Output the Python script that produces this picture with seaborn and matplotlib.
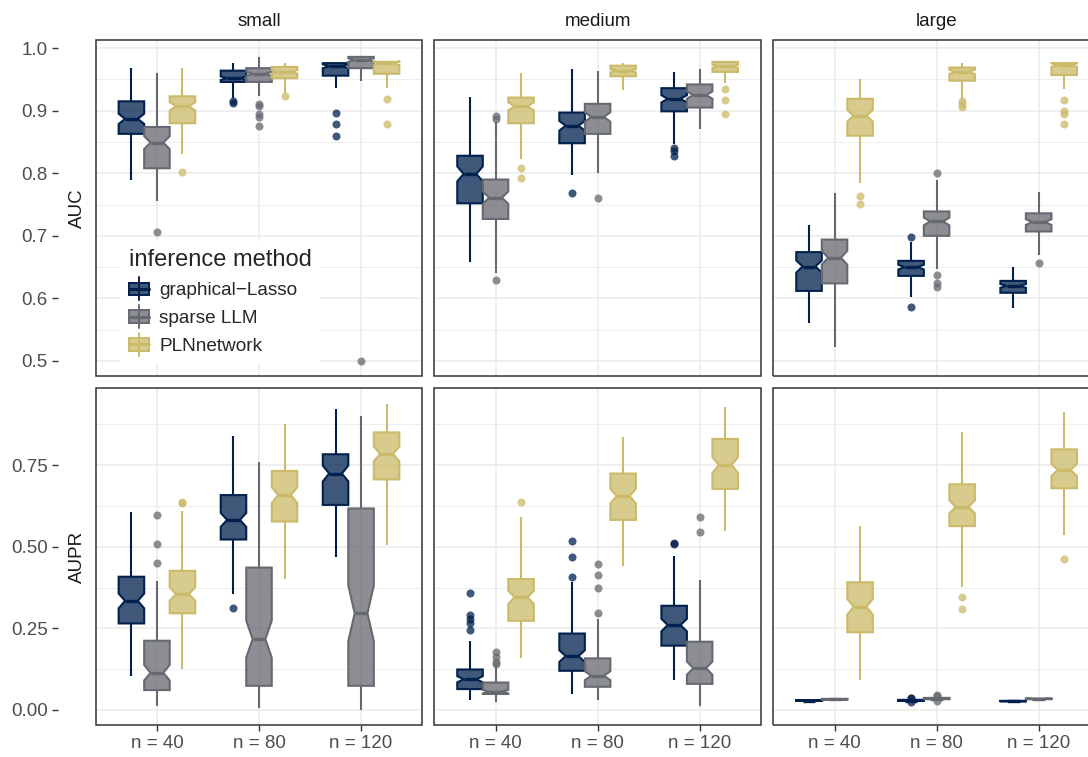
import numpy as np
import pandas as pd
import matplotlib
matplotlib.use("Agg")
import matplotlib.pyplot as plt
import seaborn as sns
from matplotlib.colors import to_rgba
from matplotlib.legend_handler import HandlerBase
from matplotlib.patches import Rectangle, Patch
from matplotlib.lines import Line2D
from matplotlib.ticker import MultipleLocator, FormatStrFormatter

GL, SL, PLN = "graphical\u2212Lasso", "sparse LLM", "PLNnetwork"
methods = [GL, SL, PLN]
colors = ["#00204D", "#666970", "#CBBA69"]
sizes = ["small", "medium", "large"]
metrics = ["AUC", "AUPR"]
n_labels = ["n = 40", "n = 80", "n = 120"]

# per box: lower whisker, Q1, median, Q3, upper whisker  (n = 40, 80, 120)
auc_small = {
    GL: [[0.789, 0.863, 0.887, 0.915, 0.969], [0.921, 0.946, 0.952, 0.964, 0.977], [0.936, 0.956, 0.971, 0.976, 0.978]],
    SL: [[0.755, 0.808, 0.849, 0.874, 0.961], [0.924, 0.946, 0.959, 0.968, 0.986], [0.947, 0.968, 0.981, 0.986, 0.988]],
    PLN: [[0.831, 0.880, 0.907, 0.923, 0.968], [0.928, 0.952, 0.962, 0.970, 0.976], [0.937, 0.959, 0.976, 0.978, 0.979]],
}
auc_small_out = {
    GL: [[], [0.916, 0.912], [0.896, 0.878, 0.859]],
    SL: [[0.706], [0.911, 0.907, 0.895, 0.890, 0.876], [0.500]],
    PLN: [[0.802], [0.924], [0.919, 0.879]],
}
auc_medium = {
    GL: [[0.658, 0.752, 0.799, 0.828, 0.922], [0.798, 0.848, 0.876, 0.897, 0.966], [0.847, 0.899, 0.919, 0.936, 0.962]],
    SL: [[0.640, 0.727, 0.761, 0.790, 0.882], [0.800, 0.863, 0.890, 0.911, 0.964], [0.870, 0.905, 0.925, 0.942, 0.967]],
    PLN: [[0.823, 0.880, 0.907, 0.921, 0.961], [0.933, 0.955, 0.964, 0.972, 0.977], [0.944, 0.962, 0.971, 0.978, 0.979]],
}
auc_medium_out = {
    GL: [[], [0.768], [0.841, 0.835, 0.828]],
    SL: [[0.892, 0.887, 0.630], [0.761], []],
    PLN: [[0.808, 0.792], [], [0.935, 0.917, 0.895]],
}
auc_large = {
    GL: [[0.561, 0.612, 0.651, 0.674, 0.718], [0.602, 0.636, 0.650, 0.660, 0.690], [0.585, 0.609, 0.620, 0.628, 0.650]],
    SL: [[0.522, 0.624, 0.665, 0.694, 0.769], [0.647, 0.700, 0.723, 0.739, 0.790], [0.670, 0.707, 0.722, 0.736, 0.770]],
    PLN: [[0.784, 0.860, 0.892, 0.919, 0.950], [0.919, 0.948, 0.962, 0.969, 0.976], [0.935, 0.957, 0.973, 0.976, 0.978]],
}
auc_large_out = {
    GL: [[], [0.698, 0.586], []],
    SL: [[], [0.800, 0.638, 0.624, 0.618], [0.657]],
    PLN: [[0.763, 0.751], [0.915, 0.911, 0.906], [0.917, 0.899, 0.895, 0.879]],
}
aupr_small = {
    GL: [[0.105, 0.265, 0.334, 0.408, 0.607], [0.355, 0.522, 0.582, 0.658, 0.839], [0.467, 0.628, 0.724, 0.783, 0.922]],
    SL: [[0.012, 0.061, 0.114, 0.212, 0.395], [0.005, 0.074, 0.217, 0.436, 0.760], [0.000, 0.074, 0.296, 0.617, 0.900]],
    PLN: [[0.127, 0.296, 0.355, 0.426, 0.609], [0.401, 0.577, 0.658, 0.732, 0.876], [0.505, 0.706, 0.784, 0.850, 0.937]],
}
aupr_small_out = {
    GL: [[], [0.313], []],
    SL: [[0.597, 0.507, 0.450], [], []],
    PLN: [[0.638, 0.635], [], []],
}
aupr_medium = {
    GL: [[0.031, 0.064, 0.094, 0.124, 0.211], [0.048, 0.120, 0.165, 0.234, 0.391], [0.092, 0.197, 0.260, 0.319, 0.471]],
    SL: [[0.023, 0.049, 0.056, 0.084, 0.135], [0.031, 0.071, 0.105, 0.158, 0.278], [0.013, 0.080, 0.128, 0.209, 0.398]],
    PLN: [[0.158, 0.273, 0.345, 0.401, 0.590], [0.441, 0.582, 0.655, 0.724, 0.837], [0.549, 0.677, 0.750, 0.830, 0.927]],
}
aupr_medium_out = {
    GL: [[0.357, 0.291, 0.278, 0.265, 0.245], [0.518, 0.467, 0.408], [0.510, 0.508]],
    SL: [[0.179, 0.161, 0.148, 0.141], [0.446, 0.413, 0.374, 0.298], [0.592, 0.544]],
    PLN: [[0.637], [], []],
}
aupr_large = {
    GL: [[0.026, 0.028, 0.029, 0.030, 0.032], [0.026, 0.028, 0.029, 0.031, 0.033], [0.026, 0.027, 0.027, 0.028, 0.029]],
    SL: [[0.029, 0.032, 0.033, 0.034, 0.037], [0.029, 0.033, 0.035, 0.037, 0.041], [0.031, 0.033, 0.034, 0.035, 0.037]],
    PLN: [[0.092, 0.238, 0.316, 0.391, 0.564], [0.378, 0.563, 0.622, 0.691, 0.852], [0.536, 0.679, 0.735, 0.798, 0.911]],
}
aupr_large_out = {
    GL: [[], [0.023, 0.036, 0.037], []],
    SL: [[], [0.026, 0.044, 0.046], []],
    PLN: [[], [0.345, 0.308], [0.462]],
}

panels = {
    ("AUC", "small"): (auc_small, auc_small_out),
    ("AUC", "medium"): (auc_medium, auc_medium_out),
    ("AUC", "large"): (auc_large, auc_large_out),
    ("AUPR", "small"): (aupr_small, aupr_small_out),
    ("AUPR", "medium"): (aupr_medium, aupr_medium_out),
    ("AUPR", "large"): (aupr_large, aupr_large_out),
}


# 100 values per box whose quartiles / whiskers / outliers are the read ones
def expand(st, outs):
    lo, q1, med, q3, hi = st
    low = sorted(v for v in outs if v < lo)
    high = sorted(v for v in outs if v > hi)
    nl, nh = len(low), len(high)
    return low + [lo] + [q1] * (25 - nl) + [med] * 48 + [q3] * (25 - nh) + [hi] + high


rows = []
for (metric, size), (stats, outs) in panels.items():
    for m in methods:
        for n, st, ol in zip(n_labels, stats[m], outs[m]):
            for v in expand(st, ol):
                rows.append((metric, size, m, n, v))
df = pd.DataFrame(rows, columns=["metric", "size", "method", "n", "value"])

sns.set_theme(style="white")
plt.rcParams["font.family"] = ["Liberation Sans", "DejaVu Sans"]


class BoxKey(HandlerBase):
    def create_artists(self, legend, orig, xd, yd, width, height, fontsize, trans):
        c = orig.get_edgecolor()
        f = orig.get_facecolor()
        x0, y0 = -xd, -yd
        cx = x0 + width / 2
        wl = Line2D([cx, cx], [y0 - 0.05 * height, y0 + 1.05 * height], color=c, lw=1.4, transform=trans)
        bx = Rectangle((x0, y0 + 0.2 * height), width, 0.6 * height, fc=f, ec=c, lw=1.4, transform=trans)
        md = Line2D([x0, x0 + width], [y0 + 0.5 * height] * 2, color=c, lw=2.2, transform=trans)
        return [wl, bx, md]


W, H = 1088, 757
fig = plt.figure(figsize=(W / 100, H / 100), dpi=100)
col_x = [95.7, 434.3, 773.3]
pw = 326.6
row_y = {"AUC": (40, 376), "AUPR": (388.3, 725)}
ylims = {"AUC": (0.476, 1.013), "AUPR": (-0.046, 0.985)}
ysteps = {"AUC": (0.1, 0.05, "%.1f"), "AUPR": (0.25, 0.125, "%.2f")}

axes = {}
for r, metric in enumerate(metrics):
    yt, yb = row_y[metric]
    for c, size in enumerate(sizes):
        ax = fig.add_axes([col_x[c] / W, 1 - yb / H, pw / W, (yb - yt) / H])
        axes[(metric, size)] = ax
        sub = df[(df["metric"] == metric) & (df["size"] == size)]
        for m, col in zip(methods, colors):
            sns.boxplot(data=sub[sub["method"] == m], x="n", y="value", hue="method",
                        order=n_labels, hue_order=methods, palette=colors,
                        dodge=True, width=0.75, gap=0, notch=True, showcaps=False,
                        whis=1.5, linecolor=col, linewidth=1.5,
                        boxprops={"facecolor": to_rgba(col, 0.75)},
                        medianprops={"linewidth": 2.4},
                        flierprops={"marker": "o", "markerfacecolor": col,
                                    "markeredgecolor": "none", "alpha": 0.75,
                                    "markersize": 5.8},
                        legend=False, ax=ax)
        ax.set_xlim(-0.6, 2.6)
        ax.set_ylim(*ylims[metric])
        ax.set_xlabel("")
        ax.set_ylabel("")
        major, minor, fmt = ysteps[metric]
        ax.yaxis.set_major_locator(MultipleLocator(major))
        ax.yaxis.set_minor_locator(MultipleLocator(minor))
        ax.yaxis.set_major_formatter(FormatStrFormatter(fmt))
        ax.set_axisbelow(True)
        ax.grid(which="major", axis="both", color="#EBEBEB", lw=1.1)
        ax.grid(which="minor", axis="y", color="#EBEBEB", lw=0.6)
        for s in ax.spines.values():
            s.set_visible(False)
        ax.spines["left"].set_position(("outward", 27))
        ax.add_patch(Rectangle((0, 0), 1, 1, transform=ax.transAxes, fill=False,
                               ec="#333333", lw=1.1, clip_on=False, zorder=5))
        ax.tick_params(axis="both", which="major", length=4, width=1.0, color="#333333",
                       labelsize=13.5, labelcolor="#4D4D4D", direction="out",
                       left=True, bottom=True)
        ax.tick_params(axis="y", which="major", pad=3.5)
        ax.tick_params(axis="x", which="major", pad=3)
        ax.tick_params(axis="y", which="minor", length=0, left=False)
        if c > 0:
            ax.tick_params(axis="y", which="both", left=False, labelleft=False)
        else:
            ax.text(-0.057, 0.5, metric, transform=ax.transAxes, rotation=90,
                    ha="center", va="center", fontsize=13.5, color="#1A1A1A")
        if r == 0:
            ax.tick_params(axis="x", bottom=False, labelbottom=False)
            ax.text(0.5, 1.0545, size, transform=ax.transAxes, ha="center",
                    va="center", fontsize=13.5, color="#1A1A1A")

handles = [Patch(facecolor=to_rgba(col, 0.75), edgecolor=col) for col in colors]
leg = axes[("AUC", "small")].legend(
    handles, methods, handler_map={Patch: BoxKey()}, title="inference method",
    loc="upper left", bbox_to_anchor=(0.0744, 0.402), borderaxespad=0,
    frameon=True, fancybox=False, facecolor="white", framealpha=1,
    fontsize=13.7, title_fontsize=17, handlelength=1.1, handleheight=1.3,
    handletextpad=0.5, labelspacing=0.37, borderpad=0.45, alignment="left")
leg.get_frame().set_linewidth(0)
leg.set_zorder(10)

fig.savefig("out.png", dpi=100)
